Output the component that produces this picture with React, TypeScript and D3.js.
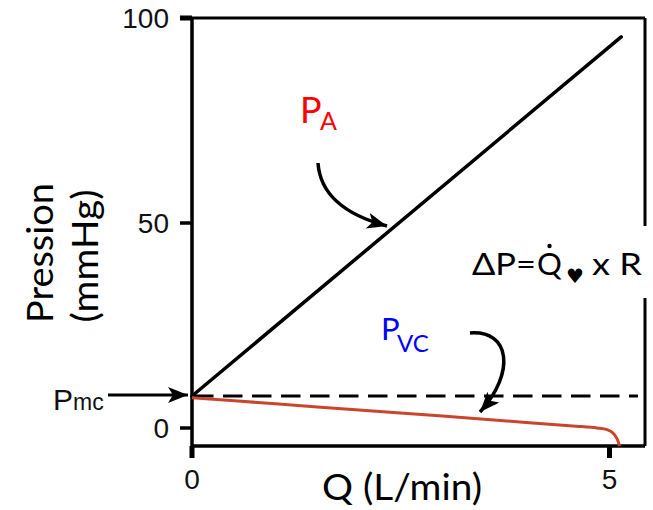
import React from "react";
import * as d3 from "d3";

// ---- data ----
const yTicks = [0, 50, 100];
const xTicks = [0, 5];
const pmc = 7.8;
const paPoints: [number, number][] = [
  [0, 7.8],
  [5.14, 95.4],
];
const pvcPoints: [number, number][] = [
  [0, 7.4],
  [1, 5.9],
  [2, 4.4],
  [3, 2.9],
  [4, 1.35],
  [4.6, 0.45],
  [4.85, 0.0],
  [4.97, -0.4],
  [5.04, -1.2],
  [5.09, -2.6],
  [5.12, -4.4],
];
const xLabel = "Q (L/min)";
const yLabel1 = "Pression";
const yLabel2 = "(mmHg)";

const W = 653;
const H = 510;

export default function App() {
  const x = d3.scaleLinear().domain([0, 5]).range([192, 609.5]);
  const y = d3.scaleLinear().domain([0, 100]).range([428, 18]);
  const xMax = x.invert(645);
  const yMin = y.invert(446);

  const line = d3
    .line<[number, number]>()
    .x((d) => x(d[0]))
    .y((d) => y(d[1]));
  const curve = d3
    .line<[number, number]>()
    .x((d) => x(d[0]))
    .y((d) => y(d[1]))
    .curve(d3.curveMonotoneY);
  const curveX = d3
    .line<[number, number]>()
    .x((d) => x(d[0]))
    .y((d) => y(d[1]))
    .curve(d3.curveCatmullRom.alpha(0.5));

  const lato = "Lato, 'Open Sans', sans-serif";
  const helv = "'Liberation Sans', Arial, sans-serif";

  return (
    <svg
      width={W}
      height={H}
      style={{ position: "absolute", left: 0, top: 0, background: "#fff" }}
    >
      <defs>
        <marker
          id="ah"
          markerUnits="userSpaceOnUse"
          markerWidth={24}
          markerHeight={20}
          refX={20}
          refY={8}
          orient="auto"
        >
          <path d="M0,0 L20,8 L0,16 L5,8 Z" fill="#000" />
        </marker>
      </defs>

      {/* frame */}
      <line x1={x(0)} x2={x(xMax)} y1={y(100)} y2={y(100)} stroke="#000" strokeWidth={3} />
      <line x1={x(xMax)} x2={x(xMax)} y1={y(100)} y2={y(yMin)} stroke="#000" strokeWidth={3} />
      <line x1={x(0)} x2={x(xMax)} y1={y(yMin)} y2={y(yMin)} stroke="#000" strokeWidth={3.5} />
      <line x1={x(0)} x2={x(0)} y1={y(100) - 1} y2={y(yMin)} stroke="#000" strokeWidth={3.5} />

      {/* y ticks */}
      {yTicks.map((t) => (
        <g key={"yt" + t}>
          <line x1={x(0) - 12} x2={x(0)} y1={y(t)} y2={y(t)} stroke="#000" strokeWidth={t === 100 ? 5 : 3.5} />
          <text x={169} y={y(t) + 10} textAnchor="end" fontFamily={helv} fontSize={28} fill="#111">
            {t}
          </text>
        </g>
      ))}
      {/* x ticks */}
      {xTicks.map((t) => (
        <g key={"xt" + t}>
          <line x1={x(t)} x2={x(t)} y1={y(yMin)} y2={y(yMin) + 12} stroke="#000" strokeWidth={5} />
          <text x={x(t)} y={489} textAnchor="middle" fontFamily={helv} fontSize={28} fill="#111">
            {t}
          </text>
        </g>
      ))}

      {/* dashed Pmc line */}
      <line
        x1={x(0) + 2}
        x2={638}
        y1={y(pmc)}
        y2={y(pmc)}
        stroke="#000"
        strokeWidth={3}
        strokeDasharray="19.5 9.5"
      />

      {/* PA line */}
      <path d={line(paPoints) ?? ""} fill="none" stroke="#000" strokeWidth={3.5} strokeLinecap="round" />
      {/* PVC curve */}
      <path d={curveX(pvcPoints) ?? ""} fill="none" stroke="#c9452c" strokeWidth={3} />

      {/* Pmc label and arrow */}
      <text x={53} y={410} fontFamily={helv} fill="#111">
        <tspan fontSize={30}>P</tspan>
        <tspan fontSize={23}>mc</tspan>
      </text>
      <line x1={108} x2={188} y1={y(pmc) - 1} y2={y(pmc) - 1} stroke="#000" strokeWidth={3} markerEnd="url(#ah)" />

      {/* PA label and arrow */}
      <text x={300} y={123} fontFamily={lato} fill="#ff0000" fontSize={36}>
        P
      </text>
      <text x={320} y={130} fontFamily={lato} fill="#ff0000" fontSize={25}>
        A
      </text>
      <path
        d="M318,163 C320,192 342,214 387,226"
        fill="none"
        stroke="#000"
        strokeWidth={3.5}
        markerEnd="url(#ah)"
      />

      {/* PVC label and arrow */}
      <text x={381} y={340} fontFamily={lato} fill="#0000ff" fontSize={31}>
        P
      </text>
      <text x={397} y={352} fontFamily={lato} fill="#0000ff" fontSize={24}>
        VC
      </text>
      <path
        d="M470,333 C510,330 516,372 480,412"
        fill="none"
        stroke="#000"
        strokeWidth={3.5}
        markerEnd="url(#ah)"
      />

      {/* Delta P formula */}
      <rect x={463} y={226} width={190} height={72} fill="#fff" />
      <text x={472} y={275} fontFamily={lato} fontSize={31} fill="#000" textLength={64} lengthAdjust="spacingAndGlyphs">
        ΔP=
      </text>
      <text x={537} y={275} fontFamily={lato} fontSize={31} fill="#000">
        Q
      </text>
      <circle cx={549.5} cy={246} r={2.2} fill="#000" />
      <text x={566} y={283} fontFamily="'DejaVu Sans', sans-serif" fontSize={20} fill="#000">
        ♥
      </text>
      <text x={592} y={275} fontFamily={lato} fontSize={31} fill="#000" textLength={50} lengthAdjust="spacingAndGlyphs">
        x R
      </text>

      {/* axis labels */}
      <text x={402} y={500} textAnchor="middle" fontFamily={lato} fontSize={37} fill="#000" textLength={160} lengthAdjust="spacingAndGlyphs">
        {xLabel}
      </text>
      <text
        transform="translate(53,253) rotate(-90)"
        textAnchor="middle"
        fontFamily={lato}
        fontSize={36}
        fill="#000"
        textLength={140}
        lengthAdjust="spacingAndGlyphs"
      >
        {yLabel1}
      </text>
      <text
        transform="translate(98,256) rotate(-90)"
        textAnchor="middle"
        fontFamily={lato}
        fontSize={36}
        fill="#000"
        textLength={133}
        lengthAdjust="spacingAndGlyphs"
      >
        {yLabel2}
      </text>
    </svg>
  );
}
